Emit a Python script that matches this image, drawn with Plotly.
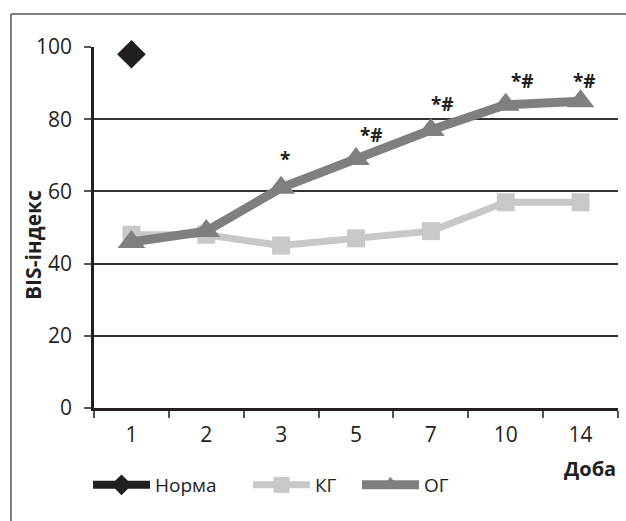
import plotly.graph_objects as go

# Доба спостереження
days = ["1", "2", "3", "5", "7", "10", "14"]
norm_days = ["1"]
norm_values = [98]
kg_values = [48, 48, 45, 47, 49, 57, 57]
og_values = [46, 49, 61, 69, 77, 84, 85]
og_marks = ["", "", "*", "*#", "*#", "*#", "*#"]
# зсув позначок достовірності відносно точок, px
mark_dx = [0, 0, 4, 15, 12, 17, 4]
mark_dy = [0, 0, 29, 24, 26, 24, 20]

FONT = "Open Sans, DejaVu Sans, sans-serif"
C_TEXT = "#231f20"
C_NORM = "#231f20"
C_KG = "#c8c8c9"
C_OG = "#7f7f80"
FS_TICK = 21
FS_LEG = 19
FS_TITLE = 21

# plot area in pixels: x 94..618, y 47..408
L, R, T, B = 94, 618, 47, 408
W, H = R - L, B - T


def px(x):
    return (x - L) / W


def py(y):
    return (B - y) / H


fig = go.Figure()

fig.add_trace(go.Scatter(
    x=norm_days, y=norm_values, name="Норма", mode="lines+markers",
    line=dict(color=C_NORM, width=8),
    marker=dict(symbol="diamond", size=22, color=C_NORM),
    cliponaxis=False, legend="legend",
))
fig.add_trace(go.Scatter(
    x=days, y=kg_values, name="КГ", mode="lines+markers",
    line=dict(color=C_KG, width=7),
    marker=dict(symbol="square", size=18, color=C_KG),
    cliponaxis=False, legend="legend2",
))
fig.add_trace(go.Scatter(
    x=days, y=og_values, name="ОГ", mode="lines+markers",
    line=dict(color=C_OG, width=9),
    marker=dict(symbol="triangle-up", size=24, color=C_OG),
    cliponaxis=False, legend="legend3",
))

# позначки достовірності над точками ОГ (x — індекс категорії)
for i, (v, m, dx, dy) in enumerate(zip(og_values, og_marks, mark_dx, mark_dy)):
    if m:
        fig.add_annotation(x=i, y=v, text=f"<b>{m}</b>", showarrow=False,
                           xshift=dx, yshift=dy,
                           font=dict(family=FONT, size=19, color=C_TEXT))

# Рамка навколо рисунка
frame = dict(color="#555555", width=1.5)
fig.add_shape(type="line", xref="paper", yref="paper",
              x0=px(11), x1=px(640), y0=py(14), y1=py(14), line=frame)
fig.add_shape(type="line", xref="paper", yref="paper",
              x0=px(11), x1=px(11), y0=py(14), y1=py(540), line=frame)

fig.add_annotation(text="<b>Доба</b>", xref="paper", yref="paper",
                   x=1.0, y=py(468), xanchor="right", yanchor="middle",
                   showarrow=False, font=dict(family=FONT, size=20, color=C_TEXT))
fig.add_annotation(text="<b>BIS-індекс</b>", xref="paper", yref="paper",
                   x=px(33), y=py(245), xanchor="center", yanchor="middle",
                   textangle=-90, showarrow=False,
                   font=dict(family=FONT, size=FS_TITLE, color=C_TEXT))

legend_common = dict(orientation="h", yanchor="middle", xanchor="left",
                     font=dict(family=FONT, size=FS_LEG, color=C_TEXT),
                     itemwidth=57, bgcolor="rgba(0,0,0,0)")

fig.update_layout(
    width=626, height=521,
    margin=dict(l=L, r=626 - R, t=T, b=521 - B),
    paper_bgcolor="white", plot_bgcolor="white",
    font=dict(family=FONT, size=FS_TICK, color=C_TEXT),
    showlegend=True,
    legend=dict(x=px(88), y=py(485), **legend_common),
    legend2=dict(x=px(248), y=py(485), **legend_common),
    legend3=dict(x=px(357), y=py(485), **legend_common),
    xaxis=dict(
        type="category", categoryorder="array", categoryarray=days,
        range=[-0.5, 6.5], showgrid=False, zeroline=False,
        showline=True, linecolor=C_TEXT, linewidth=2.5,
        ticks="outside", tickson="boundaries", ticklen=7, tickwidth=1.5,
        tickcolor="#555555", tickfont=dict(size=FS_TICK), ticklabelstandoff=6,
    ),
    yaxis=dict(
        range=[0, 100], tickvals=[0, 20, 40, 60, 80, 100],
        showgrid=True, gridcolor="#333333", gridwidth=1.5, zeroline=False,
        showline=True, linecolor=C_TEXT, linewidth=2.5,
        ticks="outside", ticklen=7, tickwidth=1.5, tickcolor="#555555",
        tickfont=dict(size=FS_TICK), ticklabelstandoff=8,
    ),
)

fig.write_html("out.html")
